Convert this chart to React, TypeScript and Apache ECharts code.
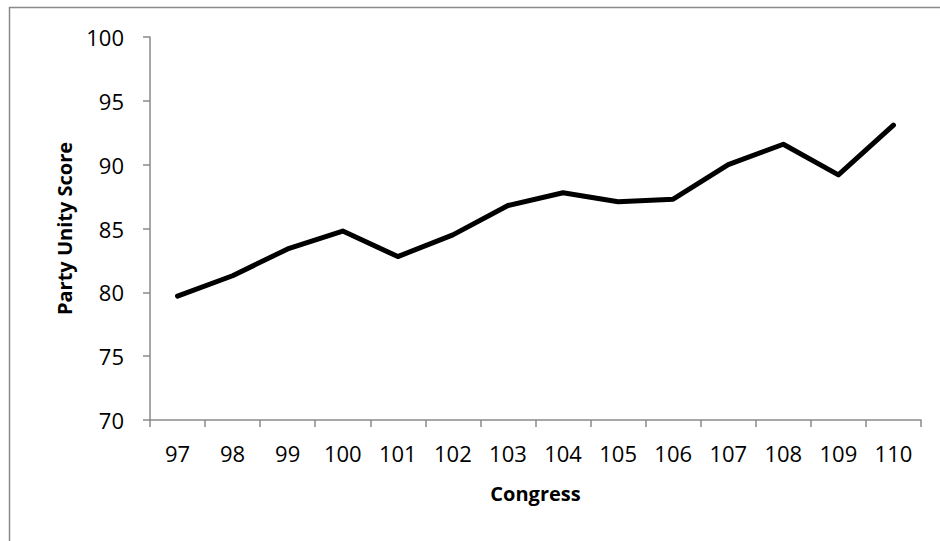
import React, { useEffect, useRef } from "react";
import * as echarts from "echarts";

const categories = ["97", "98", "99", "100", "101", "102", "103", "104", "105", "106", "107", "108", "109", "110"];
const partyUnity = [79.7, 81.3, 83.4, 84.8, 82.8, 84.5, 86.8, 87.8, 87.1, 87.3, 90.0, 91.6, 89.2, 93.1];
const yTicks = { min: 70, max: 100, interval: 5 };

export default function App() {
  const ref = useRef<HTMLDivElement>(null);
  useEffect(() => {
    const chart = echarts.init(ref.current!, null, { renderer: "svg" });
    const font = "'Open Sans', 'Liberation Sans', sans-serif";
    chart.setOption({
      animation: false,
      backgroundColor: "#ffffff",
      graphic: [
        {
          type: "rect",
          shape: { x: 9.5, y: 7.5, width: 960, height: 600 },
          style: { fill: "none", stroke: "#8a8a8a", lineWidth: 1.5 },
          silent: true,
        },
      ],
      grid: { left: 150, top: 37, right: 19, bottom: 121 },
      xAxis: {
        type: "category",
        data: categories,
        boundaryGap: true,
        name: "Congress",
        nameLocation: "middle",
        nameGap: 63,
        nameTextStyle: { fontFamily: font, fontSize: 20, fontWeight: "bold", color: "#000" },
        axisLine: { lineStyle: { color: "#8a8a8a", width: 1.5 } },
        axisTick: { show: true, alignWithLabel: false, length: 7, lineStyle: { color: "#8a8a8a", width: 1.5 } },
        axisLabel: { fontFamily: font, fontSize: 22, color: "#000", margin: 22 },
        splitLine: { show: false },
      },
      yAxis: {
        type: "value",
        min: yTicks.min,
        max: yTicks.max,
        interval: yTicks.interval,
        name: "Party Unity Score",
        nameLocation: "middle",
        nameGap: 76,
        nameTextStyle: { fontFamily: font, fontSize: 20, fontWeight: "bold", color: "#000" },
        axisLine: { show: true, lineStyle: { color: "#8a8a8a", width: 1.5 } },
        axisTick: { show: true, length: 7, lineStyle: { color: "#8a8a8a", width: 1.5 } },
        axisLabel: { fontFamily: font, fontSize: 22, color: "#000", margin: 26 },
        splitLine: { show: false },
      },
      series: [
        {
          type: "line",
          data: partyUnity,
          symbol: "none",
          lineStyle: { color: "#000", width: 5, cap: "round", join: "round" },
        },
      ],
    });
    return () => chart.dispose();
  }, []);
  return <div ref={ref} style={{ width: 940, height: 541, position: "absolute", left: 0, top: 0 }} />;
}
